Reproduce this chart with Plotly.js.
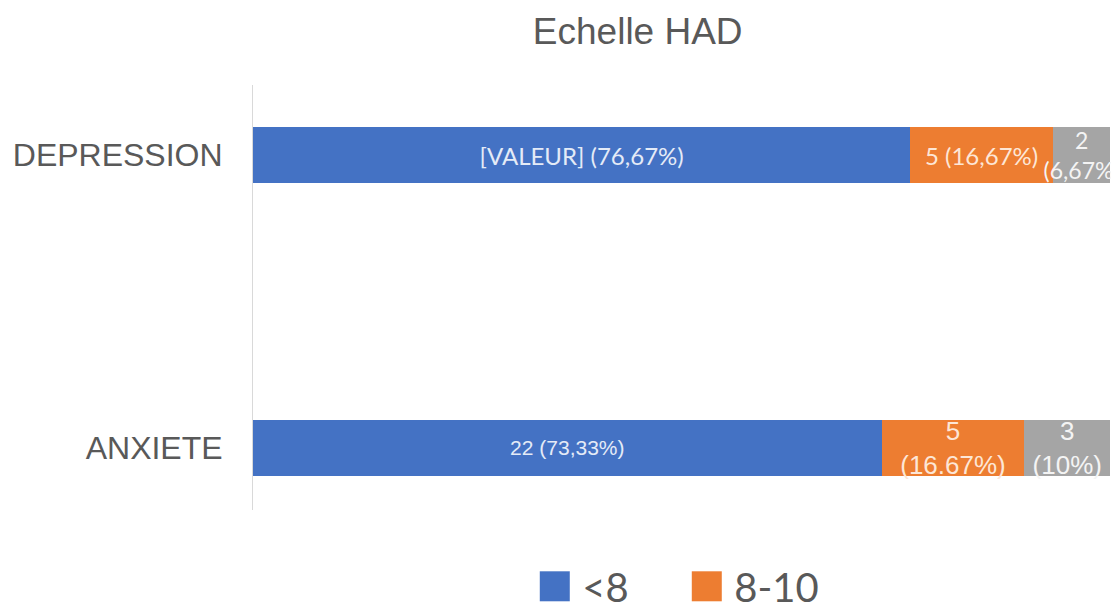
<!DOCTYPE html>
<html>
<head>
<meta charset="utf-8">
<script src="https://cdn.plot.ly/plotly-3.0.1.min.js"></script>
<style>html,body{margin:0;padding:0;background:#fff;}#chart{width:1111px;height:612px;}</style>
</head>
<body>
<div id="chart"></div>
<script>
// Data
const categories = ['ANXIETE', 'DEPRESSION'];
const seriesNames = ['<8', '8-10', '>10'];
const lt8 = [22, 23];
const mid = [5, 5];
const gt10 = [3, 2];
const lt8Labels = ['22 (73,33%)', '[VALEUR] (76,67%)'];
const midLabels = ['5<br>(16.67%)', '5 (16,67%)'];
const gt10Labels = ['3<br>(10%)', '2<br>(6,67%)'];

const ARIAL = 'Liberation Sans, Arial, sans-serif';
const CALIBRI = 'Lato, sans-serif';

function barTrace(name, vals, labels, color, txtColor, families, sizes, show) {
  return {
    type: 'bar', orientation: 'h', name: name,
    y: categories, x: vals, text: labels,
    textposition: 'inside', insidetextanchor: 'middle',
    constraintext: 'none', textangle: 0,
    textfont: {family: families, size: sizes, color: txtColor},
    marker: {color: color, line: {width: 0}},
    width: 0.191, showlegend: show, hoverinfo: 'x+y+name'
  };
}

const data = [
  barTrace(seriesNames[0], lt8, lt8Labels, '#4472C4', '#e4ebf7', [ARIAL, CALIBRI], [21, 24], true),
  barTrace(seriesNames[1], mid, midLabels, '#ED7D31', '#fde6d6', [ARIAL, CALIBRI], [26, 24], true),
  barTrace(seriesNames[2], gt10, gt10Labels, '#A5A5A5', '#f4f4f4', [ARIAL, CALIBRI], [26, 23], false)
];

const layout = {
  width: 1111, height: 612,
  margin: {l: 253, r: 0, t: 85, b: 102, pad: 0},
  paper_bgcolor: '#ffffff', plot_bgcolor: '#ffffff',
  barmode: 'stack',
  title: {
    text: 'Echelle HAD',
    font: {family: ARIAL, size: 37, color: '#595959'},
    x: 0.574, xref: 'container', xanchor: 'center',
    y: 0.95, yref: 'container', yanchor: 'middle'
  },
  xaxis: {
    range: [0, 30.03], showgrid: false, zeroline: false,
    showticklabels: false, showline: false, fixedrange: true
  },
  yaxis: {
    type: 'category', categoryorder: 'array', categoryarray: categories,
    range: [-0.212, 1.239], showgrid: false, zeroline: false,
    showline: true, linecolor: '#d9d9d9', linewidth: 1,
    ticks: '', ticklabelstandoff: 23, automargin: false,
    tickfont: {family: ARIAL, size: 32, color: '#595959'}
  },
  showlegend: true,
  legend: {
    orientation: 'h', x: 0.4746, xref: 'container', xanchor: 'left',
    y: 0.042, yref: 'container', yanchor: 'middle',
    font: {family: CALIBRI, size: 40, color: '#595959'},
    itemwidth: 45, entrywidth: 92, traceorder: 'normal', bgcolor: 'rgba(0,0,0,0)'
  },
  font: {family: ARIAL, color: '#595959'}
};

Plotly.newPlot('chart', data, layout, {displayModeBar: false, staticPlot: true}).then(function(gd){
  // enlarge legend swatches to match the reference's big squares
  gd.querySelectorAll('.legend [clip-path]').forEach(function(e){ e.removeAttribute('clip-path'); });
  gd.querySelectorAll('.legendpoints path').forEach(function(p){
    const t = p.getAttribute('transform') || '';
    p.setAttribute('transform', t + ' scale(2.5)');
  });
});
</script>
</body>
</html>
